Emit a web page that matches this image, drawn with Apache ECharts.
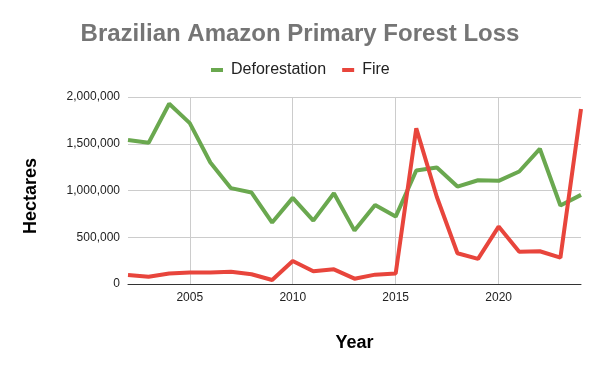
<!DOCTYPE html>
<html>
<head>
<meta charset="utf-8">
<script src="https://cdn.jsdelivr.net/npm/echarts@6/dist/echarts.min.js"></script>
<style>html,body{margin:0;padding:0;background:#fff}#c{width:600px;height:371px}</style>
</head>
<body>
<div id="c"></div>
<script>
const years = ['2002','2003','2004','2005','2006','2007','2008','2009','2010','2011','2012','2013','2014','2015','2016','2017','2018','2019','2020','2021','2022','2023','2024'];
const deforestation = [1540000,1510000,1928000,1721000,1300000,1025000,978000,657000,921000,678000,971000,571000,846000,721000,1214000,1246000,1042000,1110000,1103000,1203000,1446000,839000,953000];
const fire = [96000,78000,112000,122000,122000,130000,104000,43000,246000,136000,157000,57000,100000,112000,1665000,930000,329000,268000,614000,346000,350000,282000,1871000];
const shownYears = ['2005','2010','2015','2020'];

const chart = echarts.init(document.getElementById('c'));
const tickFn = (i, v) => shownYears.indexOf(years[i]) >= 0;
chart.setOption({
  animation: false,
  title: {
    text: 'Brazilian Amazon Primary Forest Loss',
    left: 'center', top: 17,
    textStyle: {fontFamily: 'Liberation Sans, Arial', fontSize: 24, fontWeight: 'bold', color: '#757575'}
  },
  legend: {
    top: 57, left: 206, itemWidth: 12, itemHeight: 4, itemGap: 16,
    icon: 'rect',
    textStyle: {fontFamily: 'Liberation Sans, Arial', fontSize: 16, color: '#222', padding: [0, 0, 0, 3]},
    data: ['Deforestation', 'Fire']
  },
  graphic: [{
    type: 'text', left: 22, top: 158, rotation: Math.PI / 2,
    style: {text: 'Hectares', font: 'bold 18px "Liberation Sans", Arial', fill: '#000'}
  }],
  grid: {left: 128, right: 19, top: 97, bottom: 87, containLabel: false},
  xAxis: {
    type: 'category', data: years, boundaryGap: false,
    name: 'Year', nameLocation: 'middle', nameGap: 50,
    nameTextStyle: {fontFamily: 'Liberation Sans, Arial', fontSize: 18, fontWeight: 'bold', color: '#000'},
    axisLine: {show: true, lineStyle: {color: '#333', width: 1}},
    axisTick: {show: false},
    axisLabel: {interval: tickFn, fontFamily: 'Liberation Sans, Arial', fontSize: 12, color: '#222', margin: 8},
    splitLine: {show: true, interval: tickFn, lineStyle: {color: '#ccc'}}
  },
  yAxis: {
    type: 'value', min: 0, max: 2000000, interval: 500000,
    axisLine: {show: false}, axisTick: {show: false},
    axisLabel: {fontFamily: 'Liberation Sans, Arial', fontSize: 12, color: '#222', margin: 8,
      formatter: v => v.toLocaleString('en-US')},
    splitLine: {lineStyle: {color: '#ccc'}}
  },
  series: [
    {name: 'Deforestation', type: 'line', data: deforestation, showSymbol: false, symbol: 'none',
     lineStyle: {width: 4, color: '#6aa84f'}, itemStyle: {color: '#6aa84f'}},
    {name: 'Fire', type: 'line', data: fire, showSymbol: false, symbol: 'none',
     lineStyle: {width: 4, color: '#e8453c'}, itemStyle: {color: '#e8453c'}}
  ]
});
</script>
</body>
</html>
